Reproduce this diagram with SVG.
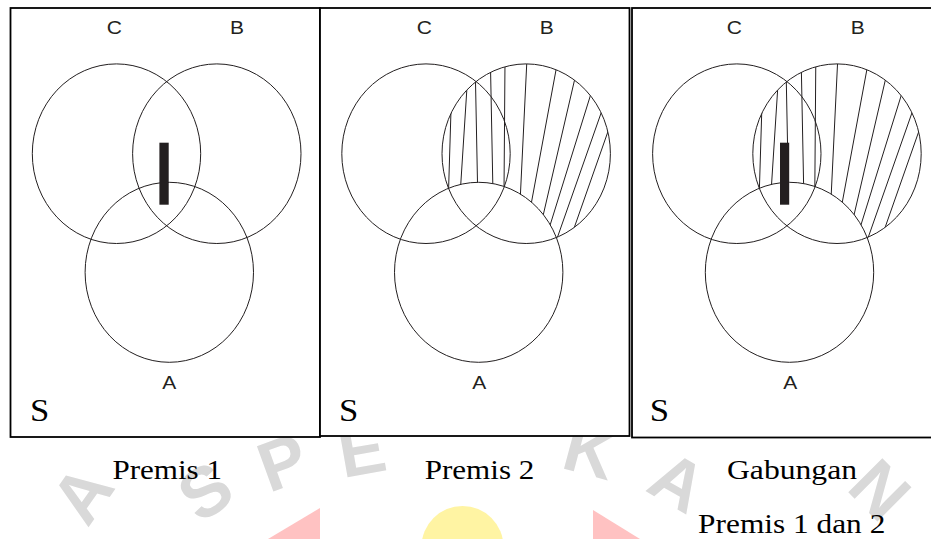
<svg xmlns="http://www.w3.org/2000/svg" xmlns:xlink="http://www.w3.org/1999/xlink" width="931" height="539" viewBox="0 0 931 539">
<style>
.frame{fill:#fff;stroke:#000;stroke-width:1.8}
.set{fill:none;stroke:#231f20;stroke-width:1}
.hatch line{stroke:#231f20;stroke-width:1}
.bar{fill:#231f20}
.lbl{font-family:"Liberation Sans",Arial,sans-serif;font-size:17.5px;fill:#231f20;text-anchor:middle}
.uni{font-family:"Liberation Serif","Times New Roman",serif;font-size:31px;fill:#000;text-anchor:middle}
.cap{font-family:"Liberation Serif","Times New Roman",serif;font-size:28px;fill:#000;text-anchor:middle}
.wm{font-family:"Liberation Sans",Arial,sans-serif;font-weight:bold;font-size:70px;fill:#d9d9d9;text-anchor:middle}
</style>
<defs>
<mask id="m2" maskUnits="userSpaceOnUse" x="0" y="0" width="931" height="539">
<ellipse cx="526.2" cy="153.7" rx="84.2" ry="89.8" fill="#fff"/>
<ellipse cx="478.7" cy="272.3" rx="84.2" ry="90" fill="#000"/>
</mask>
</defs>
<rect width="931" height="539" fill="#fff"/>
<g id="watermark">
<text class="wm" transform="translate(102,508) rotate(-55)">A</text>
<text class="wm" transform="translate(219,511) rotate(-35)">S</text>
<text class="wm" transform="translate(291,485) rotate(-20)">P</text>
<text class="wm" transform="translate(366,474) rotate(-10)">E</text>
<text class="wm" transform="translate(584,474) rotate(15)">K</text>
<text class="wm" transform="translate(666,503) rotate(30)">A</text>
<text class="wm" transform="translate(863,507) rotate(45)">N</text>
<circle cx="462.5" cy="547" r="41" fill="#fff4a3"/>
<polygon points="320,508 320,539 268,539" fill="#ffc2c2"/>
<polygon points="593,510 640,539 593,539" fill="#ffc2c2"/>
</g>
<g id="panel1">
<rect class="frame" x="10.5" y="8" width="309.5" height="429"/>
<g id="p1-C"><ellipse class="set" cx="116.5" cy="153.7" rx="84.2" ry="89.8"/><text class="lbl" transform="translate(114.3,34.3) scale(1.2,1)">C</text></g>
<g id="p1-B"><ellipse class="set" cx="216.8" cy="153.7" rx="84.2" ry="89.8"/><text class="lbl" transform="translate(237,34.3) scale(1.2,1)">B</text></g>
<g id="p1-A"><ellipse class="set" cx="169.3" cy="272.3" rx="84.2" ry="90"/><text class="lbl" transform="translate(169.3,389.3) scale(1.2,1)">A</text></g>
<rect class="bar" x="159.4" y="142.7" width="9.3" height="62"/>
<text class="uni" transform="translate(39.7,420.5) scale(1.12,1)">S</text>
</g>
<g id="panel2">
<rect class="frame" x="320" y="8" width="309.5" height="428"/>
<g id="hatch2" class="hatch" mask="url(#m2)">
<line x1="451" y1="110" x2="448.5" y2="192"/>
<line x1="467.2" y1="84" x2="460.4" y2="190"/>
<line x1="475.4" y1="76" x2="477.6" y2="188"/>
<line x1="490.5" y1="67" x2="492.9" y2="189"/>
<line x1="505" y1="61" x2="504" y2="191"/>
<line x1="527" y1="58" x2="520.3" y2="197"/>
<line x1="557.3" y1="63" x2="530.6" y2="207"/>
<line x1="575.7" y1="75" x2="542.6" y2="217.7"/>
<line x1="591.9" y1="90.7" x2="548.8" y2="229.3"/>
<line x1="603.1" y1="107.3" x2="555.2" y2="243.7"/>
<line x1="609.8" y1="126.3" x2="571.9" y2="234.3"/>
</g>
<g id="p2-C"><ellipse class="set" cx="426" cy="153.7" rx="84.2" ry="89.8"/><text class="lbl" transform="translate(424.3,34.3) scale(1.2,1)">C</text></g>
<g id="p2-B"><ellipse class="set" cx="526.2" cy="153.7" rx="84.2" ry="89.8"/><text class="lbl" transform="translate(546.7,34.3) scale(1.2,1)">B</text></g>
<g id="p2-A"><ellipse class="set" cx="478.7" cy="272.3" rx="84.2" ry="90"/><text class="lbl" transform="translate(479.3,389.3) scale(1.2,1)">A</text></g>
<text class="uni" transform="translate(348.7,420.5) scale(1.12,1)">S</text>
</g>
<g id="panel3">
<rect class="frame" x="632" y="8" width="310" height="429.5"/>
<use xlink:href="#hatch2" href="#hatch2" transform="translate(310.8,0)"/>
<g id="p3-C"><ellipse class="set" cx="736.8" cy="153.7" rx="84.2" ry="89.8"/><text class="lbl" transform="translate(734.3,34.3) scale(1.2,1)">C</text></g>
<g id="p3-B"><ellipse class="set" cx="837" cy="153.7" rx="84.2" ry="89.8"/><text class="lbl" transform="translate(857.7,34.3) scale(1.2,1)">B</text></g>
<g id="p3-A"><ellipse class="set" cx="789.5" cy="272.3" rx="84.2" ry="90"/><text class="lbl" transform="translate(790.3,389.3) scale(1.2,1)">A</text></g>
<rect class="bar" x="780" y="142.7" width="9.2" height="62"/>
<text class="uni" transform="translate(659.5,420.5) scale(1.12,1)">S</text>
</g>
<g id="captions">
<text class="cap" transform="translate(167.2,479) scale(1.11,1)">Premis 1</text>
<text class="cap" transform="translate(479.5,479) scale(1.11,1)">Premis 2</text>
<text class="cap" transform="translate(792,479) scale(1.13,1)">Gabungan</text>
<text class="cap" transform="translate(791.7,533) scale(1.12,1)">Premis 1 dan 2</text>
</g>
</svg>
